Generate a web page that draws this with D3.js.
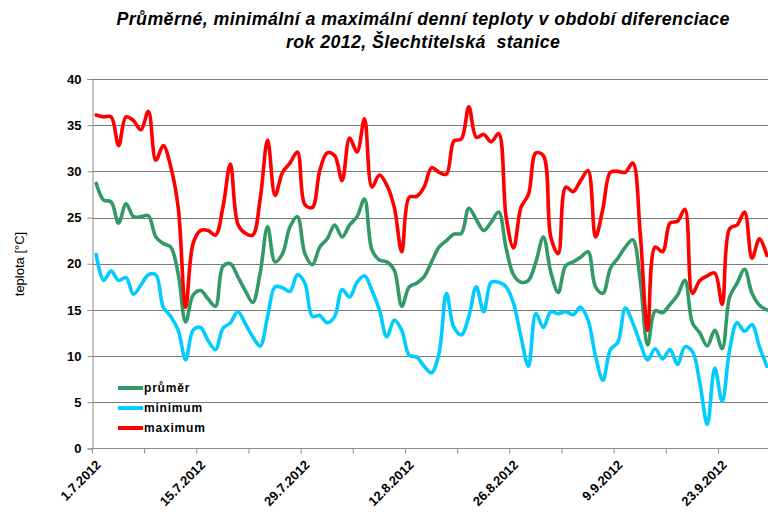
<!DOCTYPE html>
<html><head><meta charset="utf-8">
<script src="https://cdn.jsdelivr.net/npm/d3@7"></script>
<style>
html,body{margin:0;padding:0;background:#fff;overflow:hidden}
svg{display:block}
text{font-family:"Liberation Sans",Arial,sans-serif}
</style></head>
<body>
<svg id="chart" width="768" height="512"></svg>
<script>
const titleLines = ["Průměrné, minimální a maximální denní teploty v období diferenciace", "rok 2012, Šlechtitelská\u00a0 stanice"];
const titleWidths = [613, 274];
const yLabel = "teplota [°C]";
const startDate = new Date(2012, 6, 1);
const endDate = new Date(2012, 9, 1);
const xTickLabels = ["1.7.2012","15.7.2012","29.7.2012","12.8.2012","26.8.2012","9.9.2012","23.9.2012"];
const yTicks = [0,5,10,15,20,25,30,35,40];
const seriesNames = ["průměr","minimum","maximum"];
const seriesColors = ["#339966","#00CCFF","#FF0000"];

const prumer = [28.7,26.9,26.7,24.4,26.5,25.1,25.1,25.2,22.9,22.2,21.8,18.9,13.7,16.6,17.1,16.2,15.4,19.7,20.0,18.6,17.1,15.8,19.0,24.0,20.2,21.1,24.0,25.1,21.1,19.9,21.8,22.7,24.2,22.9,24.2,25.1,27.0,21.5,20.4,20.2,19.3,15.4,17.5,17.9,18.6,20.2,21.8,22.5,23.2,23.3,26.0,24.8,23.6,24.5,25.6,21.7,18.8,18.0,18.2,20.2,22.9,19.1,16.9,19.8,20.2,20.7,21.3,17.5,16.8,19.5,20.6,21.8,22.6,18.2,11.2,14.9,14.7,15.6,16.6,18.2,13.6,12.5,11.1,12.8,10.8,16.4,17.9,19.4,16.8,15.5,15.0];
const minimum = [21.0,18.2,19.2,18.2,18.5,16.7,17.7,18.8,18.8,15.3,14.3,12.8,9.6,12.8,13.1,11.7,10.7,13.0,13.6,14.8,13.5,12.1,11.1,14.3,17.5,17.4,17.0,18.8,17.9,14.3,14.4,13.6,14.3,17.2,16.4,18.0,18.7,17.1,15.0,12.1,13.9,12.8,10.1,9.9,8.9,8.2,10.3,16.8,13.1,12.3,14.3,17.5,14.8,18.0,18.0,17.5,15.7,12.1,8.9,14.6,13.1,14.8,14.6,14.8,14.5,15.3,13.9,10.0,7.4,10.7,11.5,15.2,13.6,11.4,9.6,10.8,9.7,10.7,9.1,11.0,10.5,7.1,2.6,8.7,5.1,10.7,13.6,12.7,13.4,11.0,8.9];
const maximum = [36.1,35.9,35.9,32.8,35.9,35.5,34.5,36.5,31.2,32.8,30.5,26.1,15.3,22.2,23.6,23.6,23.1,26.1,30.8,24.3,23.3,23.1,27.0,33.4,27.4,29.9,30.9,32.1,26.4,26.1,30.1,32.0,31.7,29.0,33.6,32.1,35.7,28.3,29.6,28.5,26.1,21.3,27.2,27.3,28.3,30.4,29.9,29.7,33.3,33.5,37.0,33.7,34.0,33.2,34.1,25.1,21.7,26.1,27.5,32.0,31.7,22.9,21.1,28.3,27.8,29.0,30.1,22.9,26.0,29.9,30.0,29.9,30.9,23.3,12.8,21.8,21.3,24.4,24.6,25.9,16.8,18.2,18.7,19.0,15.6,23.8,24.2,25.6,20.6,22.7,20.9];

const svg = d3.select("#chart");
const mLeft = 92.5, mTop = 79, mBottom = 448.5;
const mRight = mLeft + 92 * 7.452;

const x = d3.scaleTime().domain([startDate, endDate]).range([mLeft, mRight]);
const y = d3.scaleLinear().domain([0, 40]).range([mBottom, mTop]);

const days = d3.timeDay.range(startDate, endDate);
const midDay = d => d3.timeHour.offset(d, 12);

// gridlines
svg.append("g").selectAll("line").data(yTicks.filter(v => v > 0)).join("line")
  .attr("x1", mLeft).attr("x2", 768).attr("y1", d => Math.round(y(d)) + 0.5).attr("y2", d => Math.round(y(d)) + 0.5)
  .attr("stroke", "#7a7a7a").attr("stroke-width", 1);

// y axis
const yAxis = d3.axisLeft(y).tickValues(yTicks).tickSize(5).tickPadding(6).tickFormat(d3.format("d"));
const gy = svg.append("g").attr("transform", `translate(${mLeft},0)`).call(yAxis);
gy.select(".domain").attr("stroke", "#8c8c8c");
gy.selectAll(".tick line").attr("stroke", "#8c8c8c");
gy.selectAll("text").attr("font-size", 13).attr("font-weight", "bold").attr("fill", "#000")
  .style("font-family", "'Liberation Sans', Arial, sans-serif");

// x axis
const weekTicks = d3.timeDay.range(startDate, d3.timeDay.offset(endDate, 1), 7);
const gx = svg.append("g").attr("transform", `translate(0,${mBottom})`);
gx.append("line").attr("x1", mLeft).attr("x2", 768).attr("y1", 0).attr("y2", 0).attr("stroke", "#8c8c8c");
gx.selectAll("line.tk").data(weekTicks).join("line").attr("class","tk")
  .attr("x1", d => x(d)).attr("x2", d => x(d)).attr("y1", 0).attr("y2", 5).attr("stroke", "#8c8c8c");
const labelDates = xTickLabels.map((s, i) => d3.timeDay.offset(startDate, i * 14));
gx.selectAll("text").data(labelDates).join("text")
  .attr("transform", d => `translate(${x(d) + 6},${14}) rotate(-45)`)
  .attr("text-anchor", "end").attr("dy", "0.35em")
  .attr("font-size", 13).attr("font-weight", "bold").attr("fill", "#000")
  .text((d, i) => xTickLabels[i]);

// lines
const line = d3.line().x((d, i) => x(midDay(days[i]))).y(d => y(d)).curve(d3.curveCatmullRom.alpha(0.5));
const series = [prumer, minimum, maximum];
const order = [1, 0, 2];
svg.append("g").selectAll("path").data(order).join("path")
  .attr("d", k => line(series[k]))
  .attr("fill", "none").attr("stroke", k => seriesColors[k]).attr("stroke-width", 3.6)
  .attr("stroke-linejoin", "round").attr("stroke-linecap", "round");

// y label
svg.append("text").attr("transform", "translate(24,264) rotate(-90)")
  .attr("text-anchor", "middle").attr("font-size", 13).attr("fill", "#000").text(yLabel);

// title
svg.append("g").selectAll("text").data(titleLines).join("text")
  .attr("x", 423).attr("y", (d, i) => 25 + i * 23)
  .attr("text-anchor", "middle").attr("font-size", 17.8).attr("font-weight", "bold").attr("font-style", "italic")
  .attr("textLength", (d, i) => titleWidths[i]).attr("lengthAdjust", "spacing")
  .attr("fill", "#000").text(d => d);

// legend
const lg = svg.append("g").selectAll("g").data(seriesNames).join("g")
  .attr("transform", (d, i) => `translate(118,${388 + i * 20})`);
lg.append("line").attr("x1", 0).attr("x2", 25).attr("y1", 0).attr("y2", 0)
  .attr("stroke", (d, i) => seriesColors[i]).attr("stroke-width", 4);
lg.append("text").attr("x", 26).attr("y", 0).attr("dy", "0.35em")
  .attr("font-size", 12).attr("font-weight", "bold").attr("letter-spacing", 0.8).attr("fill", "#000").text(d => d);
</script>
</body></html>
